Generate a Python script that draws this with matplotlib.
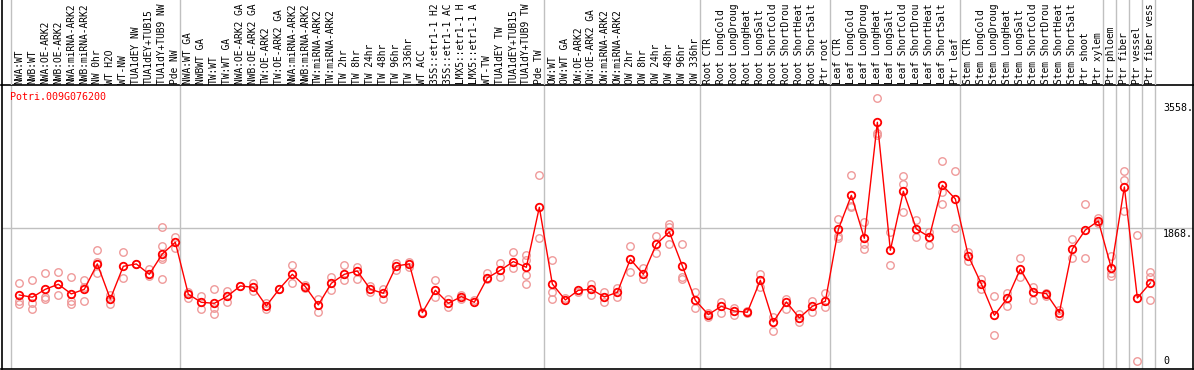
import matplotlib
matplotlib.use("Agg")
import matplotlib.pyplot as plt

gene = "Potri.009G076200"

# column labels as visible in the reference header (long names are cut at the top edge)
labels = [
    "NWA:WT", "NWB:WT", "NWA:OE-ARK2", "NWB:OE-ARK2", "NWA:miRNA-ARK2", "NWB:miRNA-ARK2",
    "NW 0hr", "WT H2O", "WT-NW", "TUA1dEY NW", "TUA1dEY+TUB15", "TUA1dY+TUB9 NW", "Pde NW",
    "NWA:WT GA", "NWBWT GA", "TW:WT", "TW:WT GA", "NWA:OE-ARK2 GA", "NWB:OE-ARK2 GA",
    "TW:OE-ARK2", "TW:OE-ARK2 GA", "NWA:miRNA-ARK2", "NWB:miRNA-ARK2", "TW:miRNA-ARK2",
    "TW:miRNA-ARK2", "TW 2hr", "TW 8hr", "TW 24hr", "TW 48hr", "TW 96hr", "TW 336hr",
    "WT ACC", "35S::etr1-1 H2", "35S::etr1-1 AC", "LMX5::etr1-1 H", "LMX5::etr1-1 A",
    "WT-TW", "TUA1dEY TW", "TUA1dEY+TUB15", "TUA1dY+TUB9 TW", "Pde TW",
    "OW:WT", "OW:WT GA", "OW:OE-ARK2", "OW:OE-ARK2 GA", "OW:miRNA-ARK2", "OW:miRNA-ARK2",
    "OW 2hr", "OW 8hr", "OW 24hr", "OW 48hr", "OW 96hr", "OW 336hr",
    "Root CTR", "Root LongCold", "Root LongDroug", "Root LongHeat", "Root LongSalt",
    "Root ShortCold", "Root ShortDrou", "Root ShortHeat", "Root ShortSalt", "Ptr root",
    "Leaf CTR", "Leaf LongCold", "Leaf LongDroug", "Leaf LongHeat", "Leaf LongSalt",
    "Leaf ShortCold", "Leaf ShortDrou", "Leaf ShortHeat", "Leaf ShortSalt", "Ptr leaf",
    "Stem CTR", "Stem LongCold", "Stem LongDroug", "Stem LongHeat", "Stem LongSalt",
    "Stem ShortCold", "Stem ShortDrou", "Stem ShortHeat", "Stem ShortSalt", "Ptr shoot",
    "Ptr xylem", "Ptr phloem", "Ptr fiber", "Ptr vessel", "Ptr fiber vess",
]

means = [
    929, 897, 1009, 1080, 944, 1009, 1366, 873, 1333, 1366, 1220, 1507, 1671,
    939, 826, 812, 911, 1056, 1037, 775, 1014, 1220, 1047, 789, 1094, 1220, 1267,
    1009, 953, 1338, 1366, 681, 995, 812, 906, 826, 1169, 1277, 1399, 1319, 2163,
    1084, 859, 995, 1009, 901, 967, 1432, 1220, 1643, 1816, 1338, 854,
    653, 770, 704, 686, 1136, 549, 831, 606, 770, 840,
    1854, 2332, 1727, 3360, 1558, 2389, 1858, 1746, 2473, 2281,
    1478, 1084, 643, 883, 1295, 972, 948, 681, 1577, 1844, 1971,
    1305, 2450, 887, 1098,
]

replicates = [
    [1094, 850, 803], [1136, 812, 728], [1234, 906, 878], [1248, 929, 1080],
    [1183, 850, 798], [1145, 1047, 840], [1558, 1394, 1244], [929, 798],
    [1539, 1164], [1366], [1295, 1197], [1882, 1619, 1460, 1432, 1150], [1751, 1586],
    [972, 883], [915, 732], [1009, 742, 657], [986, 836], [1056], [1103, 986],
    [812, 732], [1014], [1347, 1094], [1070, 1023], [868, 695], [1178, 1000],
    [1347, 1141], [1328, 1159], [1056, 976], [1019, 873], [1375, 1281], [1399, 1328],
    [695], [1136, 906], [873, 765], [929, 878], [859], [1244, 1150], [1375, 1188],
    [1530, 1305], [1493, 1422, 1211, 1080], [2614, 1727],
    [1417, 972, 868], [883], [976], [1084, 925], [972, 836], [1033, 906],
    [1614, 1258], [1314, 1155], [1760, 1525], [1929, 1891, 1643], [1647, 1188, 1150],
    [972, 742],
    [671, 624], [831, 671], [751, 643], [709, 671], [1230, 1047], [624, 418],
    [878, 737], [662, 545], [850, 695], [962, 756],
    [1999, 1760, 1736], [2614, 2182, 2163], [1952, 1647, 1572], [3698, 3214, 3182],
    [1816, 1352], [2604, 2487, 2098], [1985, 1741], [1821, 1633], [2816, 2384, 2206],
    [2675, 1868],
    [1539, 1413], [1150, 1009], [911, 362], [962, 770], [1450, 1188], [1047, 859],
    [962, 920], [718, 638], [1718, 1446], [2210, 1450], [2018, 1948],
    [1478, 1244, 1197], [2675, 2548, 2117], [1774, 5], [1253, 1188, 859],
]

group_starts = [0, 13, 41, 53, 63, 73, 84, 85, 86, 87, 88]
y_tick_values = [3558, 1868, 0]
y_tick_labels = ["3558.", "1868.", "0"]

W, H = 1194, 370
fig = plt.figure(figsize=(W / 100, H / 100), dpi=100)
fig.patch.set_facecolor("white")

mono = "DejaVu Sans Mono"
xmin, xmax = -1.37, 90.28
ymin, ymax = -113, 3885

left_px, right_px = 1.5, 1193.0
hdr_px = 85.0
bot_px = 369.0
ax = fig.add_axes([left_px / W, (H - bot_px) / H, (right_px - left_px) / W, (bot_px - hdr_px) / H])
hx = fig.add_axes([left_px / W, (H - hdr_px) / H, (right_px - left_px) / W, hdr_px / H])

for a in (ax, hx):
    a.set_xlim(xmin, xmax)
    a.set_xticks([])
    a.set_yticks([])
    a.patch.set_alpha(0)
ax.set_ylim(ymin, ymax)
hx.set_ylim(0, hdr_px)

grid_col = "#c0c0c0"
for g in group_starts:
    ax.axvline(g - 0.615, color=grid_col, lw=1, zorder=0)
    hx.axvline(g - 0.615, color=grid_col, lw=1, zorder=0)
ax.axhline(1868, color=grid_col, lw=1, zorder=0)

for sp in ax.spines.values():
    sp.set_color("black")
    sp.set_linewidth(1.2)
for name, sp in hx.spines.items():
    sp.set_color("black")
    sp.set_linewidth(1.2)
    if name in ("top", "bottom"):
        sp.set_visible(False)

xs = list(range(len(labels)))

rx, ry = [], []
for i, reps in enumerate(replicates):
    for v in reps:
        rx.append(i)
        ry.append(v)
ax.plot(rx, ry, linestyle="none", marker="o", markersize=5.4, markerfacecolor="none",
        markeredgecolor="#ef9a9a", markeredgewidth=1.0, zorder=2)

ax.plot(xs, means, color="#ff0000", lw=1.0, zorder=3)
ax.plot(xs, means, linestyle="none", marker="o", markersize=5.4, markerfacecolor="none",
        markeredgecolor="#ff0000", markeredgewidth=1.3, zorder=4)

for i, lab in enumerate(labels):
    hx.text(i, hdr_px - 83.5, lab, rotation=90, ha="center", va="bottom",
            family=mono, fontsize=6.9, color="black")

ax.text((10 - left_px) / (right_px - left_px), 1 - (97 - hdr_px) / (bot_px - hdr_px), gene,
        transform=ax.transAxes, ha="left", va="center", family=mono, fontsize=7.2, color="#ff0000")

tx = (1163 - left_px) / (right_px - left_px)
trans = ax.get_yaxis_transform()
for v, lab in zip(y_tick_values, y_tick_labels):
    if v == 1868:
        ax.text(tx, v - 5, lab, transform=trans, ha="left", va="top", family=mono, fontsize=7.2)
    else:
        ax.text(tx, v, lab, transform=trans, ha="left", va="center", family=mono, fontsize=7.2)

fig.savefig("out.png", dpi=100)
